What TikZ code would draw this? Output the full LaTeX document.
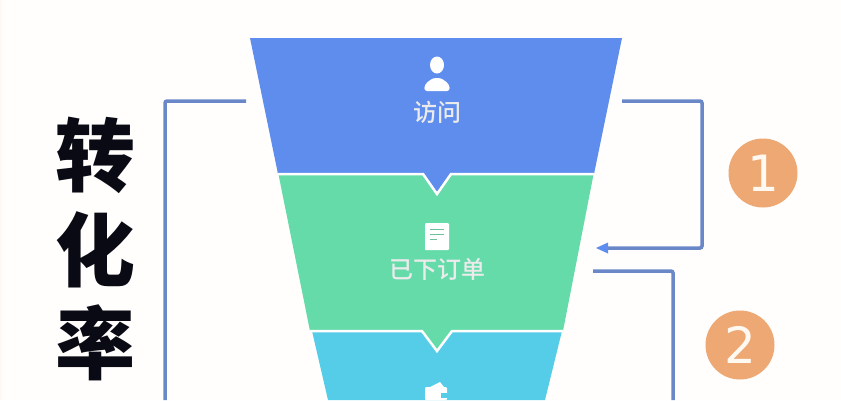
\documentclass[tikz,border=0pt]{standalone}
\usepackage{fontspec}
\newfontfamily\cjk{Noto Sans CJK SC Medium}
\newfontfamily\cjkbold{Noto Sans CJK SC Black}
\newfontfamily\numfont{DejaVu Sans}
\definecolor{visitblue}{HTML}{5F8DEE}
\definecolor{ordergreen}{HTML}{66DBAA}
\definecolor{paycyan}{HTML}{55CDE9}
\definecolor{linkblue}{HTML}{6A88C8}
\definecolor{badgeorange}{HTML}{EDA873}
\definecolor{paper}{HTML}{FFFEFC}
\definecolor{titleink}{HTML}{0A0A14}
\tikzset{
  stagelabel/.style={text=white!92!black,font=\cjk\fontsize{24}{24}\selectfont,inner sep=0pt},
  titlechar/.style={text=titleink,font=\cjkbold\fontsize{80}{80}\selectfont,inner sep=0pt},
  badge/.style={circle,fill=badgeorange,text=white!95!orange,minimum size=69pt,inner sep=0pt,font=\numfont\fontsize{50}{50}\selectfont},
  link/.style={draw=linkblue,line width=3.5pt,rounded corners=2pt},
}
\begin{document}
\begin{tikzpicture}[x=1pt,y=-1pt]
    \useasboundingbox (0,0) rectangle (841,400);
    \clip (0,0) rectangle (841,400);
    \fill[paper] (0,0) rectangle (841,400);
    \fill[white!95!orange] (0,0) rectangle (2,400);

    % funnel, lowest stage first
    \fill[paycyan] (312,331) -- (562,331) -- (545,400) -- (328,400) -- cycle;
    \fill[ordergreen] (278,172) -- (594,172) -- (563,331) -- (452,331) -- (437,351) -- (422,331) -- (310,331) -- cycle;
    \draw[white,line width=2.5pt] (310,331) -- (422,331) -- (437,351) -- (452,331) -- (563,331);
    \fill[visitblue] (250,38) -- (622,38) -- (594,174) -- (451,174) -- (437,194) -- (423,174) -- (278,174) -- cycle;
    \draw[white,line width=2.5pt] (278,174) -- (423,174) -- (437,194) -- (451,174) -- (594,174);

    % icons
    \fill[white] (437,65) ellipse (7pt and 8.5pt);
    \fill[white,rounded corners=3pt] (424,91) -- (425,84) -- (433,78) -- (441,78) -- (449,84) -- (450,91) -- cycle;
    \fill[white,rounded corners=1pt] (425,223) rectangle (449,250);
    \draw[ordergreen!70!gray,line width=1pt] (430,229) -- (444,229) (430,234) -- (444,234) (430,239) -- (437,239);
    \fill[white,rounded corners=1pt] (425,387) rectangle (447,400);
    \fill[white] (430,387) -- (440,382) -- (444,387) -- cycle;
    \fill[paycyan] (441,393) rectangle (448,398);

    % labels
    \node[stagelabel] (visit) at (437,112) {访问};
    \node[stagelabel] (order) at (437,269) {已下订单};
    \node[titlechar] (zhuan) at (95,155) {转};
    \node[titlechar] (hua) at (95,250) {化};
    \node[titlechar] (lv) at (95,343) {率};
    \node[badge] (one) at (763,173) {1};
    \node[badge] (two) at (740,345) {2};

    % connectors
    \coordinate (la) at (246,101);
    \coordinate (lb) at (165,101);
    \coordinate (lc) at (165,400);
    \coordinate (ra) at (622,101);
    \coordinate (rb) at (702,101);
    \coordinate (rc) at (702,248);
    \coordinate (rd) at (596,248);
    \coordinate (sa) at (593,271);
    \coordinate (sb) at (673,271);
    \coordinate (sc) at (673,400);
    \draw[link] (la) -- (lb) -- (lc);
    \draw[link] (ra) -- (rb) -- (rc) -- (606,248);
    \fill[visitblue] (rd) -- (608,242.5) -- (608,253.5) -- cycle;
    \draw[link] (sa) -- (sb) -- (sc);
\end{tikzpicture}
\end{document}
